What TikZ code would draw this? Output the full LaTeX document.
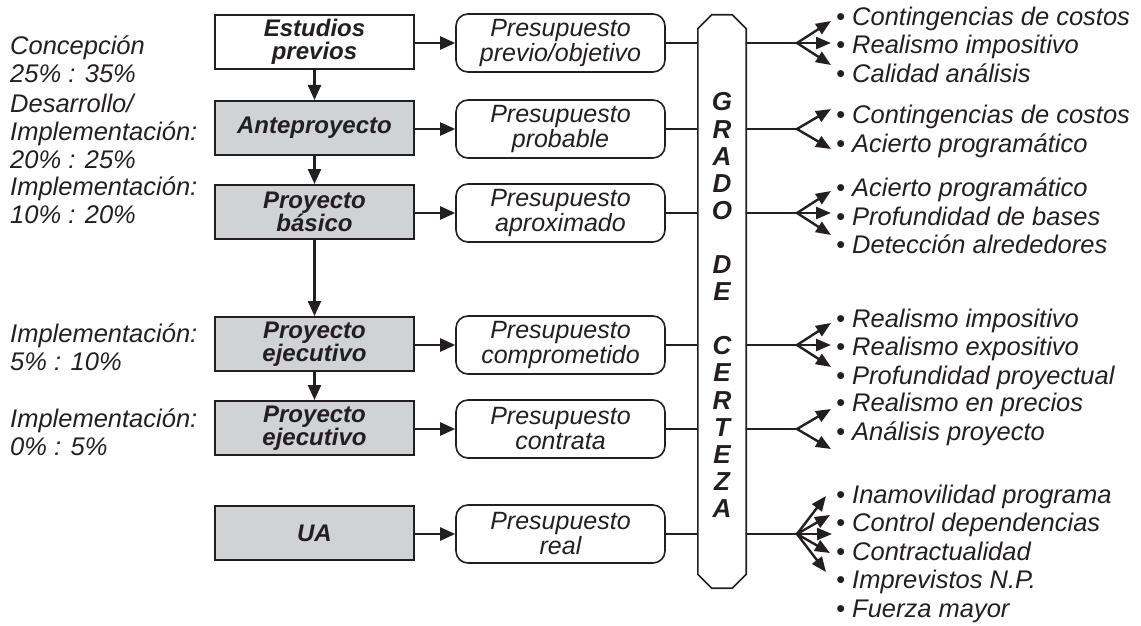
\documentclass[tikz,border=0pt]{standalone}
\usepackage{fontspec}
\setmainfont{Liberation Sans}
\usetikzlibrary{arrows.meta}
\definecolor{boxgray}{RGB}{209,210,212}
\definecolor{ink}{RGB}{35,31,32}

\begin{document}
\begin{tikzpicture}[x=1pt,y=-1pt,
  lbl/.style={font=\fontsize{25.5}{28}\selectfont\itshape, inner sep=0pt, align=left, anchor=west, text=ink},
  listtxt/.style={lbl, font=\fontsize{25.5}{28.5}\selectfont\itshape},
  stagebox/.style={draw=ink, line width=2pt, fill=white, minimum width=199pt, minimum height=54pt,
    align=center, inner sep=0pt, text=ink, font=\fontsize{24}{23}\selectfont\bfseries\itshape},
  graybox/.style={stagebox, fill=boxgray},
  budget/.style={draw=ink, line width=1.6pt, rounded corners=12pt, minimum width=209pt, minimum height=58pt,
    align=center, inner sep=0pt, text=ink, font=\fontsize{25}{25}\selectfont\itshape},
  flow/.style={draw=ink, line width=2.4pt, -{Triangle[length=15pt,width=13pt]}},
  link/.style={draw=ink, line width=2.4pt},
  fan/.style={draw=ink, line width=2.4pt, -{Triangle[length=15pt,width=12pt]}},
  letter/.style={font=\fontsize{26}{26}\selectfont\bfseries\itshape, inner sep=0pt, text=ink}
]
\useasboundingbox (0,0) rectangle (1141,626);

% phase labels
\node[lbl] (p1) at (10,59)  {Concepción\\25\% : 35\%};
\node[lbl] (p2) at (10,131) {Desarrollo/\\Implementación:\\20\% : 25\%};
\node[lbl] (p3) at (10,200) {Implementación:\\10\% : 20\%};
\node[lbl] (p4) at (10,347) {Implementación:\\5\% : 10\%};
\node[lbl] (p5) at (10,432) {Implementación:\\0\% : 5\%};

% project stages
\node[stagebox] (s1) at (314.5,42)  {Estudios\\previos};
\node[graybox]  (s2) at (314.5,128) {Anteproyecto};
\node[graybox]  (s3) at (314.5,212) {Proyecto\\básico};
\node[graybox]  (s4) at (314.5,344) {Proyecto\\ejecutivo};
\node[graybox]  (s5) at (314.5,428) {Proyecto\\ejecutivo};
\node[graybox]  (s6) at (314.5,533) {UA};

\draw[flow] (s1) -- (s2);
\draw[flow] (s2) -- (s3);
\draw[flow] (s3) -- (s4);
\draw[flow] (s4) -- (s5);

% budgets
\node[budget] (b1) at (560.5,43)  {Presupuesto\\previo/objetivo};
\node[budget] (b2) at (560.5,129) {Presupuesto\\probable};
\node[budget] (b3) at (560.5,213) {Presupuesto\\aproximado};
\node[budget] (b4) at (560.5,345) {Presupuesto\\comprometido};
\node[budget] (b5) at (560.5,429) {Presupuesto\\contrata};
\node[budget] (b6) at (560.5,534) {Presupuesto\\real};

\foreach \i in {1,...,6} \draw[flow] (s\i.east |- b\i.west) -- (b\i.west);

% certainty column
\node[minimum width=48pt, minimum height=573pt, inner sep=0pt] (g) at (722,301.5) {};
\draw[ink, line width=1.6pt, fill=white]
  ([xshift=14pt]g.north west) -- ([xshift=-14pt]g.north east) -- ([yshift=-14pt]g.north east)
  -- ([yshift=14pt]g.south east) -- ([xshift=-14pt]g.south east) -- ([xshift=14pt]g.south west)
  -- ([yshift=14pt]g.south west) -- ([yshift=-14pt]g.north west) -- cycle;
\foreach \ch/\k in {G/0,R/1,A/2,D/3,O/4,D/6,E/7,C/9,E/10,R/11,T/12,E/13,Z/14,A/15}
  \node[letter] (L\k) at (722,102+27.1*\k) {\ch};

\foreach \i in {1,...,6} \draw[link] (b\i.east) -- (b\i.east -| g.west);

% fans of consequences
\coordinate (f1) at (797,43);
\coordinate (f2) at (797,129);
\coordinate (f3) at (797,213);
\coordinate (f4) at (797,345);
\coordinate (f5) at (797,429);
\coordinate (f6) at (797,534);
\foreach \i in {1,...,6} \draw[link] (g.east |- f\i) -- (f\i);
\foreach \i in {1,3,4} \foreach \d in {-22,0,22} \draw[fan] (f\i) -- ++(34,\d);
\foreach \i in {2,5} \foreach \d in {-20,20} \draw[fan] (f\i) -- ++(34,\d);
\foreach \d/\dx in {-38/29,-19/33,0/35,19/33,38/29} \draw[fan] (f6) -- ++(\dx,\d);

% lists
\node[listtxt] (r1) at (836,44.5)  {• Contingencias de costos\\• Realismo impositivo\\• Calidad análisis};
\node[listtxt] (r2) at (836,131.5) {• Contingencias de costos\\• Acierto programático};
\node[listtxt] (r3) at (836,216)   {• Acierto programático\\• Profundidad de bases\\• Detección alrededores};
\node[listtxt] (r4) at (836,349)   {• Realismo impositivo\\• Realismo expositivo\\• Profundidad proyectual};
\node[listtxt] (r5) at (836,419.5) {• Realismo en precios\\• Análisis proyecto};
\node[listtxt] (r6) at (836,553.5) {• Inamovilidad programa\\• Control dependencias\\• Contractualidad\\• Imprevistos N.P.\\• Fuerza mayor};
\end{tikzpicture}
\end{document}
